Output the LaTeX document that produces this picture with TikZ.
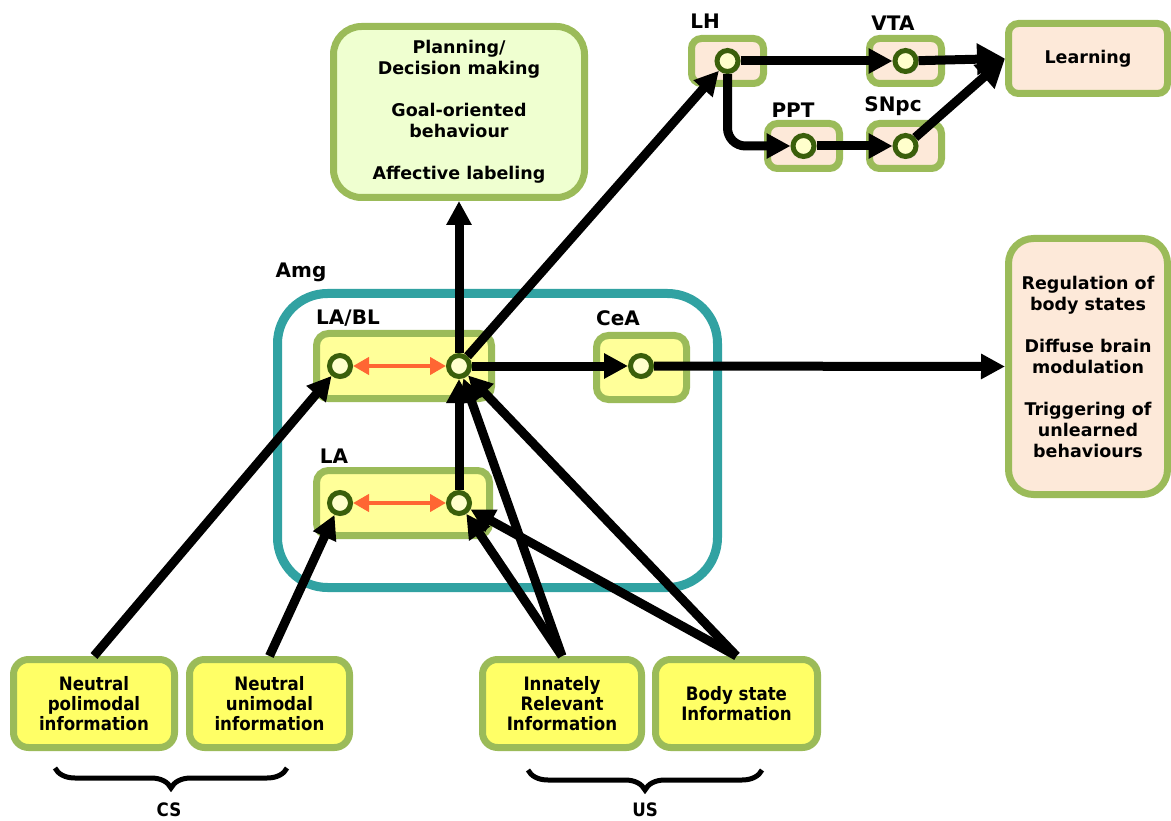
\documentclass[tikz,border=0pt]{standalone}
\usepackage{fontspec}
\setmainfont{DejaVu Sans}
\newfontfamily\condfont{DejaVu Sans Condensed}
\usetikzlibrary{arrows.meta, positioning, shadows, decorations.pathreplacing}
\definecolor{boxgreen}{HTML}{9BBB59}
\definecolor{amgteal}{HTML}{31A2A2}
\definecolor{nucleusyellow}{HTML}{FFFF99}
\definecolor{inputyellow}{HTML}{FFFF66}
\definecolor{cortexgreen}{HTML}{EFFFD0}
\definecolor{outputpeach}{HTML}{FDE9D9}
\definecolor{cellfill}{HTML}{FFFFCC}
\definecolor{celldark}{HTML}{3A5F0B}
\definecolor{linkorange}{HTML}{FF6633}

\begin{document}
\begin{tikzpicture}[x=1pt, y=-1pt,
    % ── Node styles ──────────────────────────────────────────────────────
    base/.style={
        draw=boxgreen, line width=7pt, rounded corners=10pt,
        align=center, inner sep=0pt,
        font=\fontsize{17.5}{21}\selectfont\bfseries
    },
    cortexnode/.style={base, fill=cortexgreen, rounded corners=28pt},
    outputnode/.style={base, fill=outputpeach},
    nucleusnode/.style={base, fill=nucleusyellow, rounded corners=12pt},
    inputnode/.style={
        base, fill=inputyellow, rounded corners=15pt,
        minimum height=88pt,
        font=\fontsize{18.5}{20}\selectfont\condfont\bfseries
    },
    amgnode/.style={
        draw=amgteal, line width=9pt, rounded corners=50pt,
        minimum width=440pt, minimum height=294pt
    },
    cell/.style={
        circle, draw=celldark, fill=cellfill, line width=5pt,
        minimum size=21pt, inner sep=0pt,
        drop shadow={shadow xshift=2pt, shadow yshift=-2pt,
                     fill=black!45, opacity=1}
    },
    tag/.style={font=\fontsize{20}{24}\selectfont\bfseries},
    grouptag/.style={font=\fontsize{18.5}{20}\selectfont\condfont\bfseries},
    % ── Arrow styles ─────────────────────────────────────────────────────
    sig/.style={
        -{Triangle[length=24pt, width=24pt]},
        line width=9pt, color=black
    },
    bigsig/.style={sig, -{Triangle[length=28pt, width=30pt]}},
    link/.style={
        {Triangle[length=16pt, width=17pt]}-{Triangle[length=16pt, width=17pt]},
        line width=4pt, color=linkorange
    },
    brace/.style={
        decorate, decoration={brace, mirror, amplitude=20pt},
        line width=5pt
    }
]
\useasboundingbox (0,0) rectangle (1171,821);

% ═══════════════════════════════════════════════════════════════════════════
% Cortex (top)
% ═══════════════════════════════════════════════════════════════════════════
\node[cortexnode, minimum width=251pt, minimum height=171pt] (plan) at (459,112)
    {Planning/\\Decision making\\[21pt]Goal-oriented\\behaviour\\[21pt]Affective labeling};

% ═══════════════════════════════════════════════════════════════════════════
% Hypothalamus / brainstem row
% ═══════════════════════════════════════════════════════════════════════════
\node[outputnode, minimum width=72pt, minimum height=45pt] (lhbox) at (727.5,61) {};
\node[outputnode, minimum width=72pt, minimum height=45pt] (vtabox) at (905.5,61) {};
\node[outputnode, minimum width=72pt, minimum height=45pt] (pptbox) at (803.5,146) {};
\node[outputnode, minimum width=72pt, minimum height=45pt] (snpcbox) at (905.5,146) {};
\node[outputnode, minimum width=159pt, minimum height=70pt] (learn) at (1088,58.5) {Learning};

\node[tag] (lhtag) at (705,21) {LH};
\node[tag] (vtatag) at (893,23) {VTA};
\node[tag] (ppttag) at (793,110) {PPT};
\node[tag] (snpctag) at (893,106) {SNpc};

\node[cell] (lh) at (lhbox) {};
\node[cell] (vta) at (vtabox) {};
\node[cell] (ppt) at (pptbox) {};
\node[cell] (snpc) at (snpcbox) {};

% ═══════════════════════════════════════════════════════════════════════════
% Amygdala
% ═══════════════════════════════════════════════════════════════════════════
\node[amgnode] (amg) at (497.5,440.5) {};
\node[tag] (amgtag) at (301,272) {Amg};

\node[nucleusnode, minimum width=175pt, minimum height=65pt] (lablbox) at (404,366) {};
\node[nucleusnode, minimum width=90pt, minimum height=64pt] (ceabox) at (641.5,367.5) {};
\node[nucleusnode, minimum width=173pt, minimum height=65pt] (labox) at (403,503) {};

\node[tag] (labltag) at (348,318) {LA/BL};
\node[tag] (ceatag) at (618,318) {CeA};
\node[tag] (latag) at (334,456) {LA};

\node[cell] (labla) at (340,366) {};
\node[cell] (lablb) at (459,366) {};
\node[cell] (cea) at (641,366) {};
\node[cell] (laa) at (340,503) {};
\node[cell] (lab) at (459,503) {};

% ═══════════════════════════════════════════════════════════════════════════
% Body output (right)
% ═══════════════════════════════════════════════════════════════════════════
\node[outputnode, rounded corners=25pt, minimum width=159pt, minimum height=256pt]
    (body) at (1088,366.5)
    {Regulation of\\body states\\[21pt]Diffuse brain\\modulation\\[21pt]Triggering of\\unlearned\\behaviours};

% ═══════════════════════════════════════════════════════════════════════════
% Inputs (bottom)
% ═══════════════════════════════════════════════════════════════════════════
\node[inputnode, minimum width=161pt] (poly) at (94,703.5)
    {Neutral\\polimodal\\information};
\node[inputnode, minimum width=160pt] (uni) at (269.5,703.5)
    {Neutral\\unimodal\\information};
\node[inputnode, minimum width=159pt] (innate) at (562,703.5)
    {Innately\\Relevant\\Information};
\node[inputnode, minimum width=162pt] (bstate) at (736.5,703.5)
    {Body state\\Information};

\draw[brace] (55,768) -- (287,768);
\draw[brace] (528,770) -- (762,770);
\node[grouptag] (cs) at (169,810) {CS};
\node[grouptag] (us) at (645,810) {US};

% ═══════════════════════════════════════════════════════════════════════════
% Connections
% ═══════════════════════════════════════════════════════════════════════════
\draw[link] (labla) -- (lablb);
\draw[link] (laa) -- (lab);

\draw[sig] (poly.north) -- (labla);
\draw[sig] (uni.north) -- (laa);
\draw[sig] (innate.north) -- (lab);
\draw[sig] (innate.north) -- (lablb);
\draw[sig] (bstate.north) -- (lab);
\draw[sig] (bstate.north) -- (lablb);
\draw[sig] (lab) -- (lablb);

\draw[sig] (lablb) -- (plan.south);
\draw[sig] (lablb) -- (lh);
\draw[sig] (lablb) -- (cea);
\draw[sig] (cea) -- (body.west);

\draw[sig] (lh) -- (vta);
\draw[sig, rounded corners=18pt] (lh) |- (ppt);
\draw[sig] (ppt) -- (snpc);
\draw[bigsig] (vta) -- (learn.west);
\draw[bigsig] (snpc) -- (learn.west);

\end{tikzpicture}
\end{document}
